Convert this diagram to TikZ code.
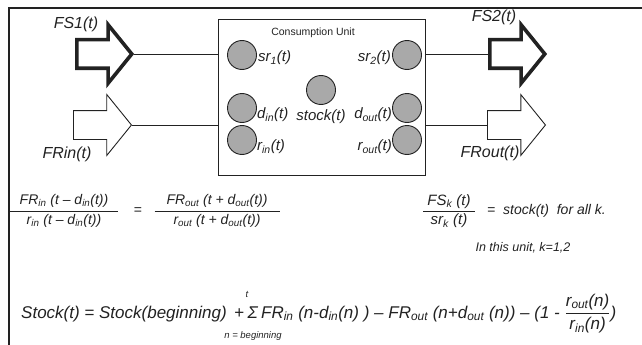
\documentclass[tikz,border=0pt]{standalone}
\usepackage{fontspec}
\setmainfont{Liberation Sans}
\usetikzlibrary{shapes.arrows, positioning}
\definecolor{ink}{HTML}{222222}
\definecolor{pelletgray}{HTML}{A9A9A9}
\newcommand{\sbx}[1]{\textsubscript{#1}}
\newcommand{\fsz}[1]{\fontsize{#1}{#1}\selectfont}

\begin{document}
\begin{tikzpicture}[x=1pt, y=-1pt, ink, font=\itshape,
  flow/.style={single arrow, draw=ink, fill=white, inner sep=0pt,
    minimum height=58pt, single arrow head extend=16pt,
    single arrow tip angle=102, line width=0.9pt, anchor=tail},
  stockflow/.style={flow, line width=3.6pt, minimum height=55pt,
    single arrow head extend=15pt},
  pellet/.style={circle, draw=ink, fill=pelletgray, line width=0.9pt,
    minimum size=29pt, inner sep=0pt},
  clbl/.style={inner sep=0pt, font=\itshape\fsz{15}},
  flbl/.style={inner sep=0pt, font=\itshape\fsz{16}},
  eqn/.style={inner sep=0pt, font=\itshape\fsz{14}},
  baleqn/.style={inner sep=0pt, font=\itshape\fsz{17}, anchor=base west},
  lim/.style={inner sep=0pt, font=\itshape\fsz{9.5}},
  link/.style={line width=0.9pt}]
  \useasboundingbox (0,0) rectangle (642,345);
  \draw[line width=1.3pt] (642,8) -- (9,8) -- (9,345);

  % consumption unit
  \node[draw, line width=1pt, minimum width=207pt, minimum height=155pt,
    inner sep=0pt] (unit) at (321.5,97.5) {};
  \node[inner sep=0pt, font=\upshape\fsz{10.5}] (ttl) at (313,33) {Consumption Unit};
  \node[pellet] (sr1) at (242,55) {};
  \node[pellet] (sr2) at (407,55) {};
  \node[pellet] (stock) at (321,90) {};
  \node[pellet] (din) at (242,108) {};
  \node[pellet] (rin) at (242,140) {};
  \node[pellet] (dout) at (407,108) {};
  \node[pellet] (rout) at (407,140) {};
  \node[clbl, right=1pt of sr1, yshift=-3pt] {sr\sbx{1}(t)};
  \node[clbl, left=1pt of sr2, yshift=-3pt] {sr\sbx{2}(t)};
  \node[clbl, below=4pt of stock] {stock(t)};
  \node[clbl, right=0pt of din, yshift=-7pt] {d\sbx{in}(t)};
  \node[clbl, right=0pt of rin, yshift=-7pt] {r\sbx{in}(t)};
  \node[clbl, left=0pt of dout, yshift=-7pt] {d\sbx{out}(t)};
  \node[clbl, left=0pt of rout, yshift=-7pt] {r\sbx{out}(t)};

  % flows in and out
  \node[stockflow] (fs1) at (75,54) {\rule{0pt}{25pt}};
  \node[flow] (frin) at (73,125) {\rule{0pt}{28pt}};
  \node[stockflow] (fs2) at (488,54) {\rule{0pt}{25pt}};
  \node[flow] (frout) at (487,125) {\rule{0pt}{28pt}};
  \node[flbl] at (76,24) {FS1(t)};
  \node[flbl] at (67,154) {FRin(t)};
  \node[flbl] at (494,17) {FS2(t)};
  \node[flbl] at (490,153) {FRout(t)};
  \draw[link] (fs1.tip) -- (fs1.tip -| unit.west);
  \draw[link] (frin.tip) -- (frin.tip -| unit.west);
  \draw[link] (unit.east |- fs2.tail) -- (fs2.tail);
  \draw[link] (unit.east |- frout.tail) -- (frout.tail);

  % equations
  \node[eqn] (ratioin) at (64,211) {$\displaystyle\frac{\makebox[108pt]{FR\sbx{in} (t -- d\sbx{in}(t))}}{\makebox[108pt]{r\sbx{in} (t -- d\sbx{in}(t))}}$};
  \node[eqn, font=\upshape\fsz{14}] (eq1) at (138,211) {=};
  \node[eqn] (ratioout) at (217,211) {$\displaystyle\frac{\makebox[125pt]{FR\sbx{out} (t + d\sbx{out}(t))}}{\makebox[125pt]{r\sbx{out} (t + d\sbx{out}(t))}}$};
  \node[eqn, font=\itshape\fsz{15}] (ratiok) at (449,211) {$\displaystyle\frac{\makebox[52pt]{FS\sbx{k} (t)}}{\makebox[52pt]{sr\sbx{k} (t)}}$};
  \node[eqn, anchor=west, font=\itshape\fsz{14}] (allk) at (487,211) {= \ stock(t) \ for all k.};
  \node[eqn, font=\itshape\fsz{12.5}] (unitk) at (523,248) {In this unit, k=1,2};

  % stock balance
  \node[baleqn] (bal) at (21,318) {Stock(t) = Stock(beginning) \,+};
  \node[baleqn, right=3pt of bal.base east, anchor=base west] (sigma) {Σ};
  \node[lim] (upper) at (247,294) {t};
  \node[lim] (lower) at (253,336) {n = beginning};
  \node[baleqn, right=3pt of sigma.base east, anchor=base west] (rest)
    {FR\sbx{in} (n-d\sbx{in}(n) ) -- FR\sbx{out} (n+d\sbx{out} (n)) -- (1 - $\displaystyle\frac{\mbox{r\sbx{out}(n)}}{\mbox{r\sbx{in}(n)}}$)};
\end{tikzpicture}
\end{document}
